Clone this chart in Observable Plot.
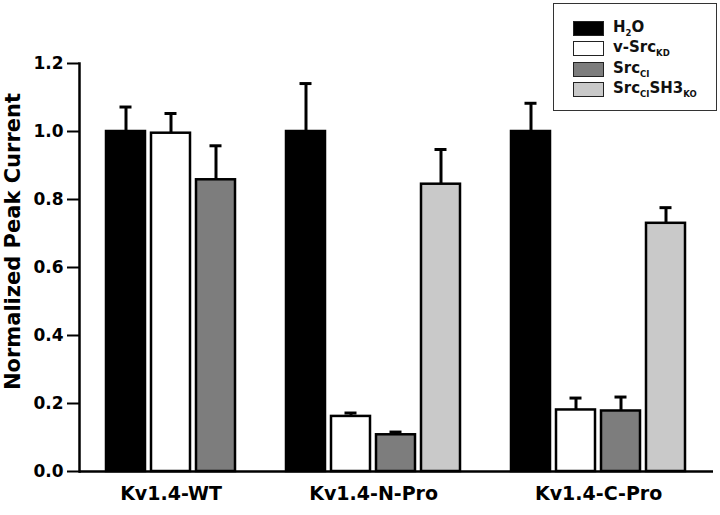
<!DOCTYPE html>
<html><head><meta charset="utf-8">
<script src="https://cdn.jsdelivr.net/npm/d3@7"></script>
<script src="https://cdn.jsdelivr.net/npm/@observablehq/plot@0.6"></script>
<style>
body{margin:0;background:#fff;font-family:"DejaVu Sans","Liberation Sans",Arial,sans-serif}
#wrap{position:relative;width:720px;height:515px}
#legend{position:absolute;left:553px;top:3px;width:164px;height:108px;border:1.5px solid #333;box-sizing:border-box;background:#fff}
.row{position:absolute;left:19px;height:16px;display:flex;align-items:center}
.sw{width:31px;height:15px;border:1.5px solid #222;box-sizing:border-box;margin-right:9px}
.lab{font-weight:bold;font-size:15px;color:#111;white-space:nowrap}
.lab sub{font-size:8.5px;vertical-align:-4px}
</style></head>
<body><div id="wrap"><div id="legend"></div></div>
<script>
// ---- data ----
const groups = ["Kv1.4-WT", "Kv1.4-N-Pro", "Kv1.4-C-Pro"];
const treatments = ["H2O", "v-SrcKD", "SrcCI", "SrcCISH3KO"];
const treatmentLabels = ["H<sub>2</sub>O", "v-Src<sub>KD</sub>", "Src<sub>CI</sub>", "Src<sub>CI</sub>SH3<sub>KO</sub>"];
const colors = ["#000000", "#ffffff", "#7d7d7d", "#c9c9c9"];
const wtMean = [1.0, 0.995, 0.858];
const wtErr = [0.072, 0.058, 0.100];
const nMean = [1.0, 0.162, 0.108, 0.845];
const nErr = [0.141, 0.010, 0.008, 0.102];
const cMean = [1.0, 0.181, 0.178, 0.730];
const cErr = [0.083, 0.035, 0.041, 0.046];
const yTicks = [0, 0.2, 0.4, 0.6, 0.8, 1.0, 1.2];

// ---- build table ----
const means = [wtMean, nMean, cMean];
const errs = [wtErr, nErr, cErr];
const rows = [];
const slots = [];
groups.forEach((g, gi) => {
  if (gi > 0) slots.push("gap" + gi);
  means[gi].forEach((m, ti) => {
    const slot = g + "|" + treatments[ti];
    slots.push(slot);
    rows.push({group: g, treatment: treatments[ti], slot, mean: m, err: errs[gi][ti]});
  });
});

const W = 720, H = 515, ML = 79, MR = 7, MT = 63, MB = 44;
const PI = 0.127, PO = 0.57;
const step = (W - ML - MR) / (slots.length - PI + 2 * PO);

// label anchors: WT centred on its middle bar, others between bars 2 and 3
const labWT = [{label: groups[0], slot: groups[0] + "|" + treatments[1]}];
const labOthers = groups.slice(1).map(g => ({label: g, slot: g + "|" + treatments[1]}));

const font = "'DejaVu Sans', 'Liberation Sans', Arial, sans-serif";

const chart = Plot.plot({
  width: W, height: H,
  marginLeft: ML, marginRight: MR, marginTop: MT, marginBottom: MB,
  style: {fontFamily: font, fontSize: "17px", fontWeight: "bold", color: "#000", background: "transparent"},
  x: {type: "band", domain: slots, paddingInner: PI, paddingOuter: PO, axis: null},
  y: {domain: [0, 1.2], axis: null},
  color: {domain: treatments, range: colors},
  marks: [
    Plot.ruleX(rows, {x: "slot", y1: "mean", y2: d => d.mean + d.err, stroke: "#000", strokeWidth: 3}),
    Plot.tickY(rows, {x: "slot", y: d => d.mean + d.err, stroke: "#000", strokeWidth: 3, insetLeft: 13.5, insetRight: 13.5}),
    Plot.barY(rows, {x: "slot", y: "mean", fill: "treatment", stroke: "#000", strokeWidth: 2.5}),
    Plot.axisY({ticks: yTicks, tickFormat: d => d.toFixed(1), tickSize: 12, tickPadding: 4, strokeWidth: 2, fontSize: 17, fontWeight: "bold", label: null}),
    Plot.ruleY([0], {stroke: "#000", strokeWidth: 2.5}),
    Plot.frame({anchor: "left", stroke: "#000", strokeWidth: 2.5}),
    Plot.text(labWT, {x: "slot", text: "label", frameAnchor: "bottom", dy: 28, fontSize: 19, fontWeight: "bold"}),
    Plot.text(labOthers, {x: "slot", text: "label", frameAnchor: "bottom", dy: 28, dx: step / 2, fontSize: 19, fontWeight: "bold"}),
    Plot.text(["Normalized Peak Current"], {frameAnchor: "left", textAnchor: "middle", rotate: -90, dx: -66, dy: -26, fontSize: 21, fontWeight: "bold"})
  ]
});
const wrap = document.getElementById("wrap");
wrap.insertBefore(chart, wrap.firstChild);

const legend = document.getElementById("legend");
const rowTops = [16, 36, 57, 77];
treatments.forEach((t, i) => {
  const r = document.createElement("div");
  r.className = "row";
  r.style.top = rowTops[i] + "px";
  r.innerHTML = `<div class="sw" style="background:${colors[i]}"></div><span class="lab">${treatmentLabels[i]}</span>`;
  legend.appendChild(r);
});
</script>
</body></html>
